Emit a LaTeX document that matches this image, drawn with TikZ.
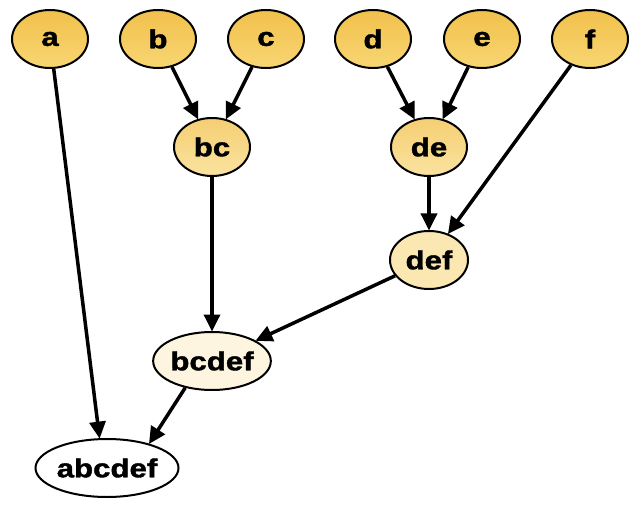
\documentclass[tikz,border=0pt]{standalone}
\usepackage{fontspec}
\setmainfont{Liberation Sans}[FakeStretch=1.2,FakeBold=1.5]
\usetikzlibrary{shapes.geometric,arrows.meta}
\definecolor{lvA1}{HTML}{F1C04C}
\definecolor{lvA2}{HTML}{F8D672}
\definecolor{lvB1}{HTML}{F5CE72}
\definecolor{lvB2}{HTML}{FAE3A0}
\definecolor{lvC}{HTML}{FBE7B2}
\definecolor{lvD}{HTML}{FDF5DF}
\tikzset{
  nd/.style={ellipse, draw=black, line width=2bp, inner sep=0pt,
    minimum height=58bp, font=\fontsize{26bp}{30bp}\selectfont\bfseries},
  lv1/.style={nd, minimum width=76bp, top color=lvA1, bottom color=lvA2},
  lv2/.style={nd, minimum width=76bp, top color=lvB1, bottom color=lvB2},
  lv3/.style={nd, minimum width=78bp, fill=lvC},
  lv4/.style={nd, minimum width=117bp, fill=lvD},
  lv5/.style={nd, minimum width=143bp, fill=white},
  arr/.style={-{Triangle[length=17bp,width=16bp]}, line width=3.5bp, shorten >=-0.5bp}
}
\begin{document}
\begin{tikzpicture}[x=1bp,y=-1bp]
\useasboundingbox (0,0) rectangle (640,508);
\node[lv1] (a) at (50,39) {a};
\node[lv1] (b) at (158,39) {b};
\node[lv1] (c) at (266,39) {c};
\node[lv1] (d) at (373,39) {d};
\node[lv1] (e) at (482,39) {e};
\node[lv1] (f) at (590,39) {f};
\node[lv2] (bc) at (212,147) {bc};
\node[lv2] (de) at (429,147) {de};
\node[lv3] (def) at (429,260) {def};
\node[lv4] (bcdef) at (212,361) {bcdef};
\node[lv5] (abcdef) at (107,468) {abcdef};
\draw[arr] (a) -- (abcdef.104);
\draw[arr] (b) -- (bc);
\draw[arr] (c) -- (bc);
\draw[arr] (d) -- (de);
\draw[arr] (e) -- (de);
\draw[arr] (f) -- (def);
\draw[arr] (de) -- (def);
\draw[arr] (bc) -- (bcdef);
\draw[arr] (def) -- (bcdef);
\draw[arr] (bcdef.225) -- (abcdef.30);
\end{tikzpicture}
\end{document}
